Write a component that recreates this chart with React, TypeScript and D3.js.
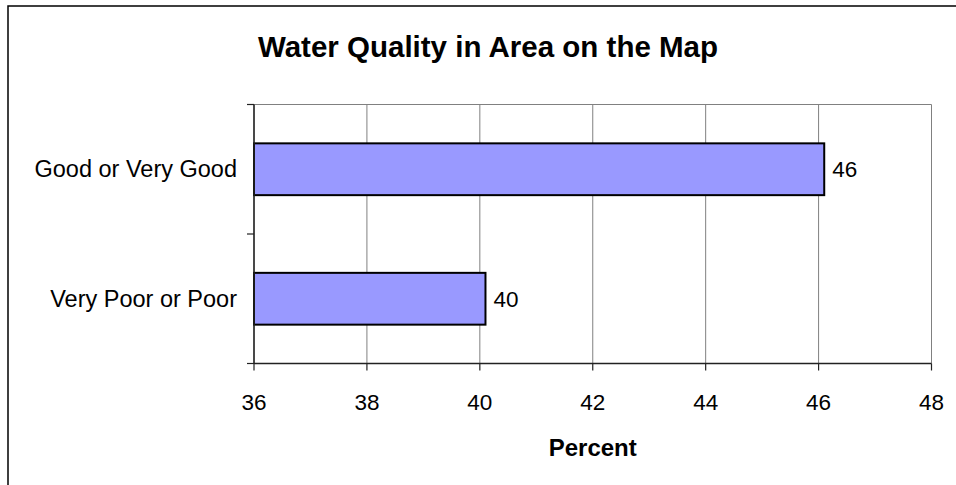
import React from "react";
import * as d3 from "d3";

const categories = ["Good or Very Good", "Very Poor or Poor"];
const values = [46.1, 40.1];
const valueLabels = ["46", "40"];
const xTicks = [36, 38, 40, 42, 44, 46, 48];
const title = "Water Quality in Area on the Map";
const xTitle = "Percent";

export default function App() {
  const W = 956, H = 485;
  const left = 254, right = 931.5, top = 104.5, bottom = 363.5;
  const x = d3.scaleLinear().domain([36, 48]).range([left, right]);
  const y = d3.scaleBand().domain(categories).range([top, bottom]).paddingInner(0.6).paddingOuter(0.3);
  const yOuter = d3.scaleBand().domain(categories).range([top, bottom]);
  const font = "Arial, 'Liberation Sans', Helvetica, sans-serif";
  return (
    <svg width={W} height={H} style={{ position: "absolute", left: 0, top: 0, background: "#fff" }} fontFamily={font}>
      <rect x={8} y={6} width={W + 20} height={H + 20} fill="#fff" stroke="#000" strokeWidth={1.5} />
      <text x={488} y={57} textAnchor="middle" fontSize={29.5} fontWeight="bold">{title}</text>
      {/* gridlines */}
      {xTicks.map((t) => (
        <line key={"g" + t} x1={x(t)} x2={x(t)} y1={top} y2={bottom} stroke="#808080" strokeWidth={1} />
      ))}
      <line x1={left} x2={right} y1={top} y2={top} stroke="#808080" strokeWidth={1} />
      {/* bars */}
      {categories.map((c, i) => (
        <g key={c}>
          <rect x={x(36)} y={y(c)} width={x(values[i]) - x(36)} height={y.bandwidth()} fill="#9999FF" stroke="#000" strokeWidth={2} />
          <text x={x(values[i]) + 8} y={(y(c) as number) + y.bandwidth() / 2 + 8} fontSize={22.5}>{valueLabels[i]}</text>
          <text x={237} y={(y(c) as number) + y.bandwidth() / 2 + 8} textAnchor="end" fontSize={23.5}>{c}</text>
        </g>
      ))}
      {/* axes */}
      <line x1={left} x2={left} y1={top} y2={bottom} stroke="#222" strokeWidth={1.5} />
      <line x1={left} x2={right} y1={bottom} y2={bottom} stroke="#222" strokeWidth={1.5} />
      {[...categories.map((c) => yOuter(c) as number), bottom].map((v, i) => (
        <line key={"yt" + i} x1={left - 7} x2={left} y1={v} y2={v} stroke="#222" strokeWidth={1.2} />
      ))}
      {xTicks.map((t) => (
        <g key={"t" + t}>
          <line x1={x(t)} x2={x(t)} y1={bottom} y2={bottom + 7} stroke="#222" strokeWidth={1.2} />
          <text x={x(t)} y={410} textAnchor="middle" fontSize={22.5}>{t}</text>
        </g>
      ))}
      <text x={(left + right) / 2} y={456} textAnchor="middle" fontSize={24} fontWeight="bold">{xTitle}</text>
    </svg>
  );
}
